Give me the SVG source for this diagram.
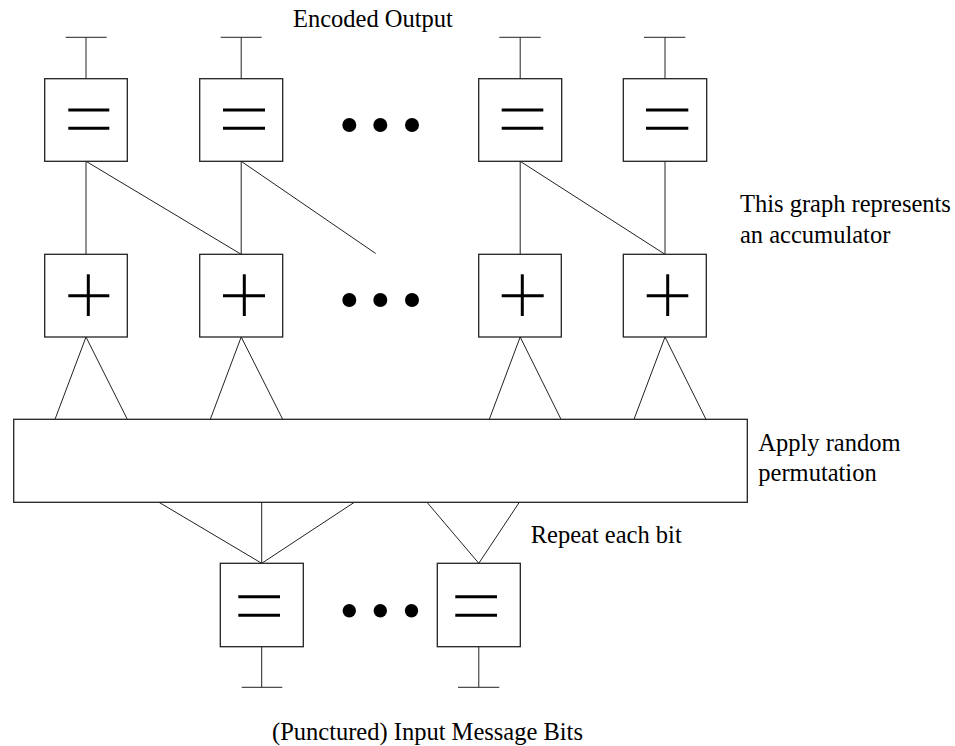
<svg xmlns="http://www.w3.org/2000/svg" width="955" height="746" viewBox="0 0 955 746">
  <style>
    .box { fill: #ffffff; stroke: #222222; stroke-width: 1.3; }
    .wire { stroke: #222222; stroke-width: 1; fill: none; }
    .sym { stroke: #000000; stroke-width: 3; fill: none; }
    .dot { fill: #000000; }
    .label { font-family: "Liberation Serif", "Times New Roman", serif; font-size: 24.5px; fill: #000000; }
  </style>

  <rect width="955" height="746" fill="#ffffff"/>

  <!-- connectors -->
  <g id="connectors" class="wire">
    <!-- output terminals -->
    <line x1="86" y1="37.3" x2="86" y2="78.7"/>
    <line x1="65.7" y1="37.3" x2="106.7" y2="37.3"/>
    <line x1="241.2" y1="37.3" x2="241.2" y2="78.7"/>
    <line x1="220.7" y1="37.3" x2="261.7" y2="37.3"/>
    <line x1="520.2" y1="37.3" x2="520.2" y2="78.7"/>
    <line x1="499.3" y1="37.3" x2="540.7" y2="37.3"/>
    <line x1="665" y1="37.3" x2="665" y2="78.7"/>
    <line x1="644" y1="37.3" x2="685.3" y2="37.3"/>

    <!-- accumulator: equality to parity -->
    <line x1="86" y1="161.3" x2="86" y2="254.3"/>
    <line x1="86" y1="161.3" x2="241.2" y2="254.3"/>
    <line x1="241.2" y1="161.3" x2="241.2" y2="254.3"/>
    <line x1="241.2" y1="161.3" x2="375.7" y2="253.5"/>
    <line x1="520.2" y1="161.3" x2="520.2" y2="254.3"/>
    <line x1="520.2" y1="161.3" x2="665" y2="254.3"/>
    <line x1="665" y1="161.3" x2="665" y2="254.3"/>

    <!-- parity checks into the permutation -->
    <polyline points="55,419.3 86,337 127.3,419.3"/>
    <polyline points="210.3,419.3 241.2,337 282.7,419.3"/>
    <polyline points="489.3,419.3 520.2,337 561,419.3"/>
    <polyline points="634,419.3 665,337 706,419.3"/>

    <!-- repetition edges -->
    <line x1="159" y1="502.3" x2="261.7" y2="563.3"/>
    <line x1="261.7" y1="502.3" x2="261.7" y2="563.3"/>
    <line x1="354.3" y1="502.3" x2="261.7" y2="563.3"/>
    <line x1="427" y1="502.3" x2="478.8" y2="563.3"/>
    <line x1="519.3" y1="502.3" x2="478.8" y2="563.3"/>

    <!-- input terminals -->
    <line x1="261.7" y1="646.7" x2="261.7" y2="687.3"/>
    <line x1="241.7" y1="687.3" x2="282.3" y2="687.3"/>
    <line x1="478.8" y1="646.7" x2="478.8" y2="687.3"/>
    <line x1="458" y1="687.3" x2="499.3" y2="687.3"/>
  </g>

  <!-- top row: equality nodes -->
  <g id="eq-top-1">
    <rect class="box" x="44.7" y="78.7" width="82.6" height="82.6"/>
    <line class="sym" x1="68.3" y1="110" x2="109.3" y2="110"/>
    <line class="sym" x1="68.3" y1="128.3" x2="109.3" y2="128.3"/>
  </g>
  <g id="eq-top-2">
    <rect class="box" x="199.7" y="78.7" width="83" height="82.6"/>
    <line class="sym" x1="223" y1="110" x2="265" y2="110"/>
    <line class="sym" x1="223" y1="128.3" x2="265" y2="128.3"/>
  </g>
  <g id="dots-top">
    <circle class="dot" cx="349.3" cy="125" r="7"/>
    <circle class="dot" cx="380.3" cy="125" r="7"/>
    <circle class="dot" cx="412" cy="125" r="7"/>
  </g>
  <g id="eq-top-3">
    <rect class="box" x="478.7" y="78.7" width="83" height="82.6"/>
    <line class="sym" x1="501.7" y1="110" x2="543.3" y2="110"/>
    <line class="sym" x1="501.7" y1="128.3" x2="543.3" y2="128.3"/>
  </g>
  <g id="eq-top-4">
    <rect class="box" x="623.3" y="78.7" width="83.4" height="82.6"/>
    <line class="sym" x1="646" y1="110" x2="688.3" y2="110"/>
    <line class="sym" x1="646" y1="128.3" x2="688.3" y2="128.3"/>
  </g>

  <!-- middle row: parity nodes -->
  <g id="sum-1">
    <rect class="box" x="44.7" y="254.3" width="82.6" height="82.7"/>
    <line class="sym" x1="68.3" y1="295.7" x2="109.3" y2="295.7"/>
    <line class="sym" x1="88.3" y1="274.3" x2="88.3" y2="316"/>
  </g>
  <g id="sum-2">
    <rect class="box" x="199.7" y="254.3" width="83" height="82.7"/>
    <line class="sym" x1="223" y1="295.7" x2="265" y2="295.7"/>
    <line class="sym" x1="244.3" y1="274.3" x2="244.3" y2="316"/>
  </g>
  <g id="dots-mid">
    <circle class="dot" cx="349.3" cy="300" r="7"/>
    <circle class="dot" cx="380.3" cy="300" r="7"/>
    <circle class="dot" cx="412" cy="300" r="7"/>
  </g>
  <g id="sum-3">
    <rect class="box" x="478.7" y="254.3" width="82.6" height="82.7"/>
    <line class="sym" x1="501.7" y1="295.7" x2="543.7" y2="295.7"/>
    <line class="sym" x1="522.3" y1="274.3" x2="522.3" y2="316"/>
  </g>
  <g id="sum-4">
    <rect class="box" x="623.3" y="254.3" width="83" height="82.7"/>
    <line class="sym" x1="646.7" y1="295.7" x2="688.3" y2="295.7"/>
    <line class="sym" x1="667.7" y1="274.3" x2="667.7" y2="316"/>
  </g>

  <!-- interleaver -->
  <g id="permutation">
    <rect class="box" x="13.7" y="419.3" width="733.6" height="83"/>
  </g>

  <!-- bottom row: repetition nodes -->
  <g id="eq-in-1">
    <rect class="box" x="220.3" y="563.3" width="83" height="83.4"/>
    <line class="sym" x1="238.3" y1="596.7" x2="280" y2="596.7"/>
    <line class="sym" x1="238.3" y1="615.3" x2="280" y2="615.3"/>
  </g>
  <g id="dots-bottom">
    <circle class="dot" cx="349.3" cy="610.7" r="6.7"/>
    <circle class="dot" cx="380.3" cy="610.7" r="6.7"/>
    <circle class="dot" cx="411.5" cy="610.7" r="6.7"/>
  </g>
  <g id="eq-in-2">
    <rect class="box" x="437.3" y="563.3" width="83" height="83.4"/>
    <line class="sym" x1="455.3" y1="596.7" x2="497" y2="596.7"/>
    <line class="sym" x1="455.3" y1="615.3" x2="497" y2="615.3"/>
  </g>

  <!-- annotations -->
  <g id="labels" class="label">
    <text x="293" y="27">Encoded Output</text>
    <text x="740" y="212">This graph represents</text>
    <text x="740" y="242.7">an accumulator</text>
    <text x="758.3" y="450.7">Apply random</text>
    <text x="758.3" y="481">permutation</text>
    <text x="530.7" y="543.3">Repeat each bit</text>
    <text x="272" y="739.5">(Punctured) Input Message Bits</text>
  </g>
</svg>
